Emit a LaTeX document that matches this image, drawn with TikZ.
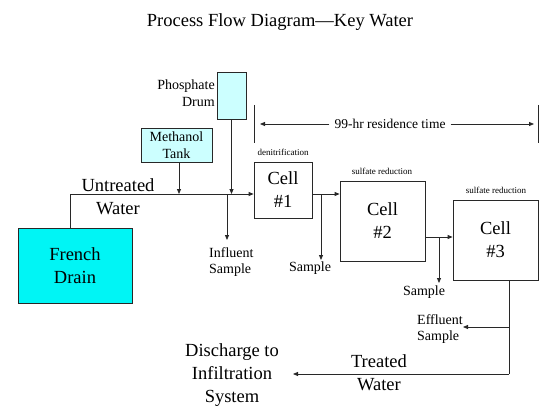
\documentclass[tikz,border=0pt]{standalone}
\usepackage{fontspec}
\setmainfont{Liberation Serif}
\usetikzlibrary{arrows.meta}
\definecolor{drain}{RGB}{0,245,245}
\definecolor{tank}{RGB}{204,255,255}
\definecolor{ln}{RGB}{40,40,40}
\tikzset{
  box/.style={draw=ln, line width=0.8pt, inner sep=0pt, align=center},
  big/.style={font=\fontsize{18.5}{23}\selectfont, align=center, inner sep=0pt},
  mid/.style={font=\fontsize{14}{16.5}\selectfont, inner sep=0pt},
  tiny/.style={font=\fontsize{9}{11}\selectfont, inner sep=0pt},
  flow/.style={draw=ln, line width=0.8pt},
  arr/.style={flow, -{Triangle[length=5pt,width=4pt]}}
}
\begin{document}
\begin{tikzpicture}[x=1pt,y=-1pt]
\useasboundingbox (0,0) rectangle (559,417);
% title
\node[big] (title) at (280,22) {Process Flow Diagram—Key Water};
% boxes
\node[box, fill=drain, minimum width=114pt, minimum height=75pt, big] (drain) at (75,265.5) {French\\Drain};
\node[box, fill=tank, minimum width=71pt, minimum height=34pt, mid, align=center] (meth) at (176.5,145) {Methanol\\Tank};
\node[box, fill=tank, minimum width=29pt, minimum height=47pt] (phos) at (231.5,95.5) {};
\node[mid, align=right, anchor=east] (phoslbl) at (215,93) {Phosphate\\Drum};
\node[box, minimum width=58pt, minimum height=56pt, big] (c1) at (283,190) {Cell\\\#1};
\node[box, minimum width=85pt, minimum height=80pt, big] (c2) at (382.5,221) {Cell\\\#2};
\node[box, minimum width=85pt, minimum height=80pt, big] (c3) at (495.5,240) {Cell\\\#3};
\node[tiny] (d1) at (283,152) {denitrification};
\node[tiny] (d2) at (382,171) {sulfate reduction};
\node[tiny] (d3) at (496,190) {sulfate reduction};
% untreated line
\coordinate (ut) at (70,194);
\coordinate (inf) at (227,194);
\coordinate (infend) at (227,240);
\draw[flow] (drain.north -| ut) -- (ut);
\draw[arr] (ut) -- (ut -| c1.west);
\draw[arr] (meth.south -| 179,0) -- (179,194);
\draw[arr] (phos.south) -- (phos.south |- ut);
\draw[arr] (inf) -- (infend);
\node[big] (untreated) at (118,197) {Untreated\\Water};
\node[mid, align=left, anchor=west] (infl) at (209,262) {Influent\\Sample};
% cell1 -> cell2
\coordinate (o1) at (312,194);
\coordinate (s1) at (321,194);
\coordinate (s1end) at (321,260);
\draw[arr] (o1) -- (o1 -| c2.west);
\draw[arr] (s1) -- (s1end);
\node[mid] (samp1) at (310,268) {Sample};
% cell2 -> cell3
\coordinate (o2) at (425,237);
\coordinate (s2) at (439,237);
\coordinate (s2end) at (439,283);
\draw[arr] (o2) -- (o2 -| c3.west);
\draw[arr] (s2) -- (s2end);
\node[mid] (samp2) at (424,292) {Sample};
% outlet
\coordinate (o3) at (509,280);
\coordinate (eff) at (509,327);
\coordinate (corner) at (509,374);
\coordinate (effend) at (463,327);
\coordinate (disend) at (293,374);
\draw[flow] (o3) -- (corner);
\draw[arr] (eff) -- (effend);
\draw[arr] (corner) -- (disend);
\node[mid, align=left, anchor=west] (efflbl) at (417,329) {Effluent\\Sample};
\node[big] (treated) at (379,372.5) {Treated\\Water};
\node[big] (discharge) at (232,375) {Discharge to\\Infiltration\\System};
% residence time
\coordinate (lt) at (254,105);
\coordinate (lb) at (254,143);
\coordinate (rtop) at (538,105);
\coordinate (rbot) at (538,143);
\draw[flow] (lt) -- (lb);
\draw[flow] (rtop) -- (rbot);
\node[font=\fontsize{13.5}{16}\selectfont, inner xsep=5pt, inner ysep=0pt] (res) at (390,124) {99-hr residence time};
\coordinate (la) at (260,124);
\coordinate (ra) at (534,124);
\draw[arr] (res.west) -- (la);
\draw[arr] (res.east) -- (ra);
\end{tikzpicture}
\end{document}
